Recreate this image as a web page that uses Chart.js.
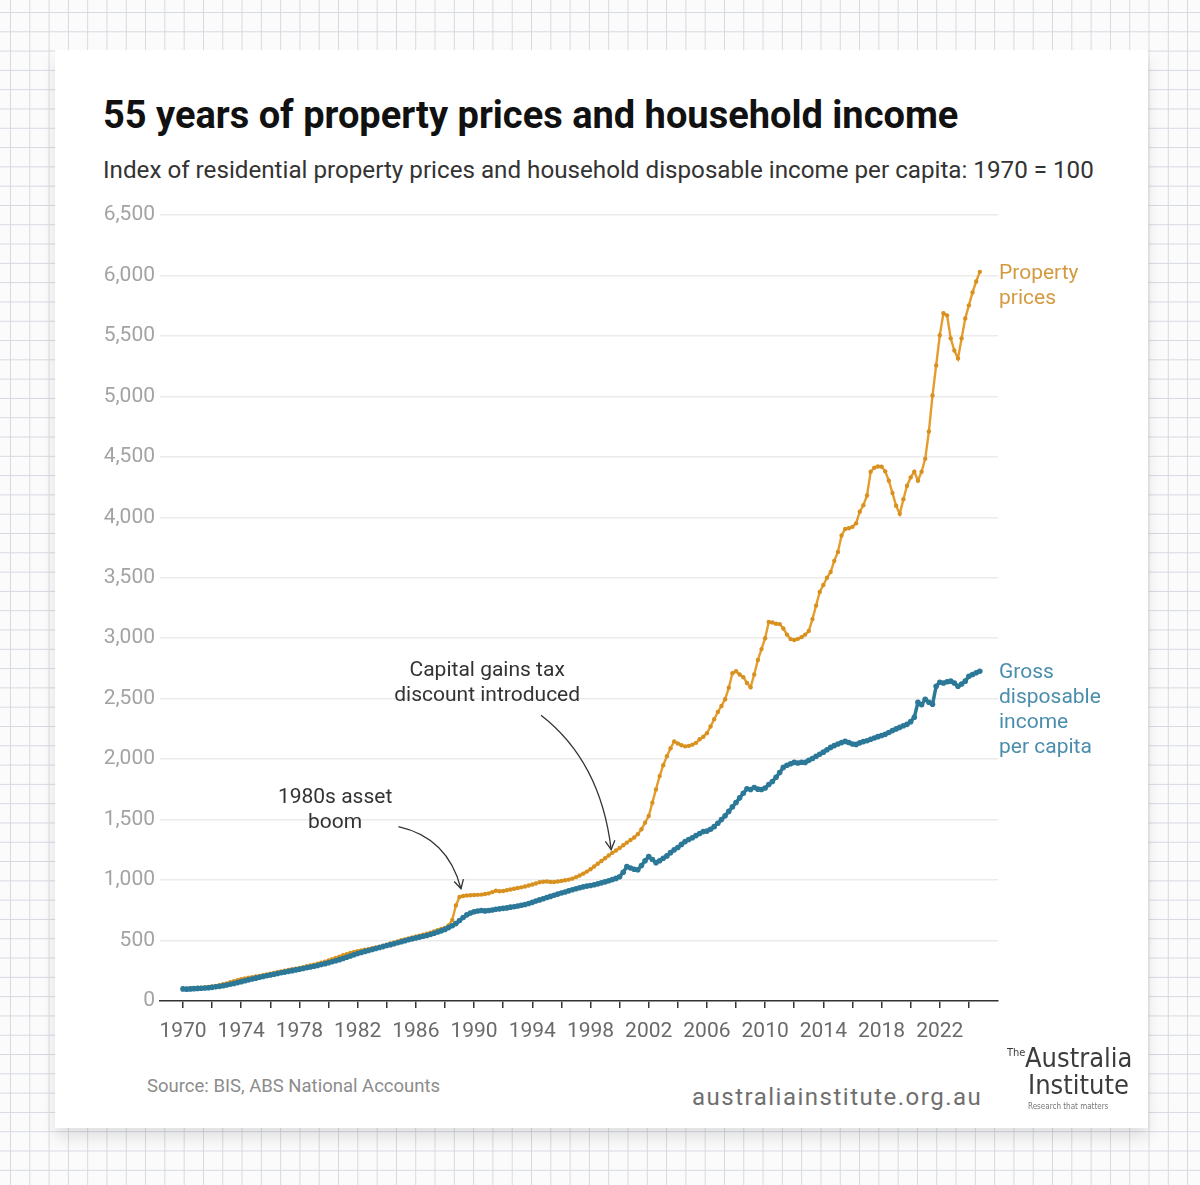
<!DOCTYPE html>
<html lang="en">
<head>
<meta charset="UTF-8">
<title>55 years of property prices and household income</title>
<style>
body {
  margin: 0;
  width: 1200px;
  height: 1185px;
  overflow: hidden;
  background-color: #fbfbfc;
  background-image:
    linear-gradient(to right, #d5d9e0 1px, transparent 1px),
    linear-gradient(to bottom, #d5d9e0 1px, transparent 1px);
  background-size: 19.3px 19.3px;
  background-position: 10px 12px;
  font-family: Roboto, Arial, sans-serif;
}

/* white card */
.card {
  position: absolute;
  left: 55px;
  top: 50px;
  width: 1093px;
  height: 1078px;
  background: #fff;
  box-shadow: 0 10px 14px rgba(0, 0, 0, 0.10);
}

.title {
  position: absolute;
  left: 48px;
  top: 46px;
  margin: 0;
  font-size: 38px;
  line-height: 38px;
  font-weight: 700;
  color: #111;
}

.subtitle {
  position: absolute;
  left: 48px;
  top: 108px;
  font-size: 24.2px;
  line-height: 24px;
  color: #333;
}

.chart-box {
  position: absolute;
  left: 0;
  top: 145px;
  width: 1093px;
  height: 860px;
}

.source {
  position: absolute;
  left: 92px;
  top: 1027px;
  font-size: 18.5px;
  line-height: 18px;
  color: #8c8c8c;
}

.site {
  position: absolute;
  left: 637px;
  top: 1035px;
  font-size: 24px;
  line-height: 24px;
  letter-spacing: 1.5px;
  color: #6f6f6f;
}

/* logo */
.logo { position: absolute; color: #3c3c3c; font-family: "Liberation Sans Narrow", "DejaVu Sans Condensed", Arial, sans-serif; }
.logo-the { left: 952px; top: 996px; font-size: 11px; }
.logo-a { left: 970px; top: 994px; font-size: 27px; line-height: 27px; }
.logo-i { left: 973px; top: 1021px; font-size: 27px; line-height: 27px; }
.logo-r { left: 973px; top: 1052px; font-size: 8px; color: #777; }
</style>
</head>
<body>

<div class="card">
  <h1 class="title">55 years of property prices and household income</h1>
  <div class="subtitle">Index of residential property prices and household disposable income per capita: 1970 = 100</div>

  <div class="chart-box">
    <canvas id="priceChart"></canvas>
  </div>

  <div class="source">Source: BIS, ABS National Accounts</div>
  <div class="site">australiainstitute.org.au</div>
  <div class="logo logo-the">The</div>
  <div class="logo logo-a">Australia</div>
  <div class="logo logo-i">Institute</div>
  <div class="logo logo-r">Research that matters</div>
</div>

<script src="https://cdn.jsdelivr.net/npm/chart.js"></script>
<script>
// quarterly index values, 1970 Q1 .. 2024 Q4 (1970 = 100)
const startYear = 1970;

const propertyPrices = [
  100, 101, 103, 105,     // 1970
  107, 110, 113, 116,
  120, 125, 131, 138,
  146, 155, 164, 172,
  180, 186, 192, 197,
  202, 208, 214, 220,     // 1975
  226, 232, 238, 244,
  250, 256, 262, 268,
  274, 280, 287, 294,
  301, 309, 317, 326,
  335, 345, 356, 367,     // 1980
  378, 388, 397, 405,
  412, 418, 424, 430,
  436, 443, 450, 458,
  466, 475, 484, 493,
  502, 510, 518, 526,     // 1985
  533, 540, 548, 556,
  565, 575, 585, 595,
  605, 625, 670, 790,
  860, 868, 872, 875,
  876, 878, 880, 885,     // 1990
  890, 900, 912, 908,
  910, 916, 922, 928,
  934, 940, 947, 955,
  963, 972, 982, 986,
  988, 985, 984, 988,     // 1995
  993, 998, 1004, 1012,
  1024, 1038, 1053, 1070,
  1090, 1112, 1135, 1158,
  1180, 1203, 1225, 1245,
  1265, 1288, 1310, 1332, // 2000
  1352, 1380, 1420, 1475,
  1530, 1640, 1750, 1860,
  1950, 2025, 2090, 2147,
  2130, 2115, 2106, 2110,
  2120, 2135, 2164, 2185, // 2005
  2215, 2270, 2330, 2390,
  2440, 2495, 2590, 2710,
  2727, 2700, 2678, 2630,
  2595, 2700, 2820, 2910,
  3000, 3134, 3130, 3120, // 2010
  3117, 3080, 3030, 2993,
  2985, 2995, 3009, 3030,
  3060, 3158, 3270, 3382,
  3440, 3500, 3548, 3640,
  3714, 3850, 3904, 3910, // 2015
  3921, 3950, 4046, 4100,
  4180, 4377, 4410, 4420,
  4419, 4380, 4303, 4200,
  4095, 4029, 4150, 4261,
  4330, 4377, 4303, 4377, // 2020
  4485, 4709, 5007, 5256,
  5505, 5687, 5670, 5480,
  5380, 5314, 5480, 5645,
  5753, 5860, 5950, 6030
];

const incomePerCapita = [
  100, 98, 100, 102,      // 1970
  104, 106, 108, 110,
  113, 117, 121, 126,
  132, 138, 145, 152,
  160, 168, 175, 182,
  189, 196, 203, 209,     // 1975
  215, 221, 227, 233,
  239, 245, 251, 257,
  263, 269, 275, 281,
  287, 294, 301, 308,
  316, 324, 333, 342,     // 1980
  352, 362, 372, 382,
  392, 401, 410, 418,
  426, 434, 442, 450,
  458, 466, 474, 482,
  490, 498, 506, 514,     // 1985
  521, 528, 535, 542,
  550, 560, 570, 580,
  592, 607, 622, 640,
  665, 690, 712, 728,
  738, 744, 748, 745,     // 1990
  748, 752, 758, 762,
  766, 770, 776, 780,
  786, 792, 798, 806,
  816, 826, 836, 846,
  856, 865, 874, 884,     // 1995
  893, 902, 911, 920,
  928, 937, 944, 950,
  955, 961, 969, 977,
  985, 994, 1004, 1014,
  1028, 1065, 1111, 1100, // 2000
  1090, 1086, 1120, 1160,
  1194, 1170, 1144, 1160,
  1180, 1200, 1227, 1250,
  1270, 1295, 1318, 1335,
  1350, 1368, 1385, 1401, // 2005
  1405, 1420, 1442, 1470,
  1500, 1532, 1568, 1605,
  1641, 1680, 1718, 1755,
  1749, 1766, 1752, 1749,
  1762, 1790, 1815, 1850, // 2010
  1890, 1932, 1950, 1962,
  1973, 1968, 1975, 1973,
  1990, 2005, 2023, 2040,
  2058, 2078, 2097, 2112,
  2125, 2137, 2147, 2138, // 2015
  2125, 2122, 2135, 2145,
  2152, 2164, 2175, 2186,
  2195, 2205, 2220, 2236,
  2250, 2263, 2276, 2288,
  2310, 2346, 2470, 2450, // 2020
  2495, 2470, 2454, 2603,
  2636, 2630, 2640, 2645,
  2630, 2603, 2622, 2645,
  2686, 2700, 2714, 2727
];

const seriesNames = ['Property prices', 'Gross disposable income per capita'];
const endLabels = [['Property', 'prices'], ['Gross', 'disposable', 'income', 'per capita']];

// annotations, in data coordinates (year, index value)
const notes = [
  { text: ['1980s asset', 'boom'], at: [1980.45, 1683],
    from: [1984.8, 1442], bend: [1988.2, 1351], to: [1989.1, 928] },
  { text: ['Capital gains tax', 'discount introduced'], at: [1990.9, 2727],
    from: [1994.6, 2363], bend: [1998.7, 1981], to: [1999.42, 1252] }
];

const toPoints = arr => arr.map((v, i) => ({ x: startYear + i / 4, y: v }));

const ORANGE = '#e59c2c';
const BLUE = '#2b7898';

Chart.defaults.font.family = 'Roboto, Arial, sans-serif';

// annotation text, arrows and the end-of-line labels
const notesPlugin = {
  id: 'notes',
  afterDatasetsDraw(chart) {
    const { ctx, chartArea } = chart;
    const xs = chart.scales.x, ys = chart.scales.y;
    const px = p => [xs.getPixelForValue(p[0]), ys.getPixelForValue(p[1])];
    ctx.save();

    notes.forEach(n => {
      const [tx, ty] = px(n.at);
      ctx.font = '21px Roboto, Arial, sans-serif';
      ctx.fillStyle = '#333';
      ctx.textAlign = 'center';
      ctx.textBaseline = 'middle';
      n.text.forEach((t, i) => ctx.fillText(t, tx, ty + i * 25));

      const [sx, sy] = px(n.from), [cx, cy] = px(n.bend), [ex, ey] = px(n.to);
      ctx.strokeStyle = '#333';
      ctx.lineWidth = 1.3;
      ctx.beginPath();
      ctx.moveTo(sx, sy);
      ctx.quadraticCurveTo(cx, cy, ex, ey);
      ctx.stroke();
      const ang = Math.atan2(ey - cy, ex - cx);
      ctx.beginPath();
      ctx.moveTo(ex - 10 * Math.cos(ang - 0.5), ey - 10 * Math.sin(ang - 0.5));
      ctx.lineTo(ex, ey);
      ctx.lineTo(ex - 10 * Math.cos(ang + 0.5), ey - 10 * Math.sin(ang + 0.5));
      ctx.stroke();
    });

    const labelColours = ['#d39a41', '#4b8dad'];
    chart.data.datasets.forEach((ds, di) => {
      const meta = chart.getDatasetMeta(di);
      const last = meta.data[meta.data.length - 1];
      const idx = ds.labelIndex;
      ctx.font = '21px Roboto, Arial, sans-serif';
      ctx.fillStyle = labelColours[idx];
      ctx.textAlign = 'left';
      ctx.textBaseline = 'middle';
      endLabels[idx].forEach((t, i) => ctx.fillText(t, chartArea.right + 1, last.y + 2 + i * 25));
    });
    ctx.restore();
  }
};

const ctx = document.getElementById('priceChart').getContext('2d');

new Chart(ctx, {
  type: 'line',
  data: {
    datasets: [
      {
        label: seriesNames[1],
        labelIndex: 1,
        data: toPoints(incomePerCapita),
        borderColor: BLUE,
        backgroundColor: BLUE,
        borderWidth: 3.5,
        pointRadius: 2.8,
        pointBorderWidth: 0,
        pointBackgroundColor: BLUE,
        tension: 0
      },
      {
        label: seriesNames[0],
        labelIndex: 0,
        data: toPoints(propertyPrices),
        borderColor: ORANGE,
        backgroundColor: ORANGE,
        borderWidth: 2.4,
        pointRadius: 2.2,
        pointBorderWidth: 0,
        pointBackgroundColor: '#d8901f',
        tension: 0
      }
    ]
  },
  options: {
    responsive: true,
    maintainAspectRatio: false,
    animation: false,
    layout: { padding: { top: 20, right: 150, bottom: 9, left: 0 } },
    plugins: {
      legend: { display: false },
      tooltip: { enabled: false }
    },
    scales: {
      x: {
        type: 'linear',
        min: 1968.42,
        max: 2026,
        afterFit: s => { s.height = 45; },
        afterBuildTicks: s => { s.ticks = s.ticks.filter(t => t.value >= 1970 && t.value <= 2024); },
        border: { display: true, color: '#333', width: 1.5 },
        grid: { drawOnChartArea: false, drawTicks: true, tickLength: 7, color: '#333', lineWidth: 1.5 },
        ticks: {
          stepSize: 2,
          includeBounds: false,
          autoSkip: false,
          maxRotation: 0,
          padding: 11,
          color: '#6a6a6a',
          font: { size: 21 },
          callback: v => ((v - 1970) % 4 === 0 ? String(v) : '')
        }
      },
      y: {
        min: 0,
        max: 6500,
        afterFit: s => { s.width = 105; },
        border: { display: false },
        grid: { color: '#ebebeb', lineWidth: 1.5, drawTicks: false },
        ticks: {
          stepSize: 500,
          padding: 5,
          color: '#a3a3a3',
          font: { size: 21 },
          callback: v => v.toLocaleString('en-US')
        }
      }
    }
  },
  plugins: [notesPlugin]
});
</script>

</body>
</html>
